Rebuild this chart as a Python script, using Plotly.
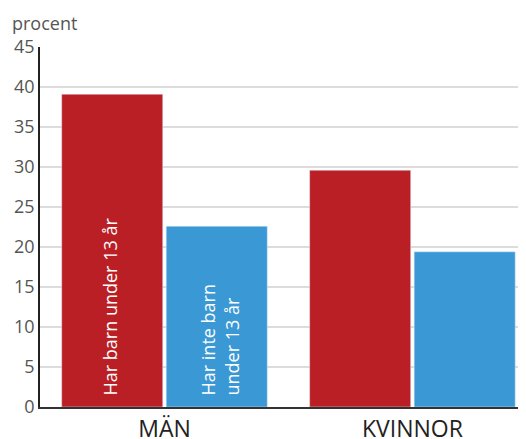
import plotly.graph_objects as go

# data
categories = ["MÄN", "KVINNOR"]
med_barn = [39.1, 29.6]
utan_barn = [22.6, 19.4]
med_barn_label = "Har barn under 13 år"
utan_barn_label = "Har inte barn<br>under 13 år"
y_ticks = [0, 5, 10, 15, 20, 25, 30, 35, 40, 45]

RED = "#BA1F25"
BLUE = "#3A98D5"
FONT = "Open Sans, Noto Sans, sans-serif"

fig = go.Figure()
fig.add_trace(go.Bar(x=categories, y=med_barn, marker_color=RED, hoverinfo="y"))
fig.add_trace(go.Bar(x=categories, y=utan_barn, marker_color=BLUE, hoverinfo="y"))

# page body has an 8px margin, so margins are trimmed to land the plot where the reference has it
fig.update_layout(
    width=526, height=439,
    margin=dict(l=32, r=8, t=39, b=40),
    plot_bgcolor="white", paper_bgcolor="white",
    showlegend=False,
    barmode="group", bargap=0.157, bargroupgap=0.033,
    font=dict(family=FONT),
)
fig.update_xaxes(range=[-0.502, 1.458], showline=True, linecolor="#333", linewidth=2,
                 tickfont=dict(size=23, color="#222"), ticks="", automargin=False, fixedrange=True)
fig.update_yaxes(range=[0, 45], tickvals=y_ticks, showgrid=True, gridcolor="#dcdcdc", gridwidth=2,
                 showline=True, linecolor="#222", linewidth=1.5, zeroline=False,
                 tickfont=dict(size=18, color="#555"), ticks="", automargin=False, fixedrange=True)

# labels inside the MÄN bars, written bottom-up
for label, shift in [(med_barn_label, -54), (utan_barn_label, 55)]:
    fig.add_annotation(text=label, x=categories[0], y=0, xshift=shift, yshift=10,
                       textangle=-90, align="left", xanchor="center", yanchor="bottom",
                       showarrow=False, font=dict(size=18, color="white", family=FONT))

fig.add_annotation(text="procent", xref="paper", yref="paper", x=-32/486, y=1,
                   yshift=10, xshift=2, xanchor="left", yanchor="bottom",
                   showarrow=False, font=dict(size=18, color="#555", family=FONT))

fig.write_html("out.html")
